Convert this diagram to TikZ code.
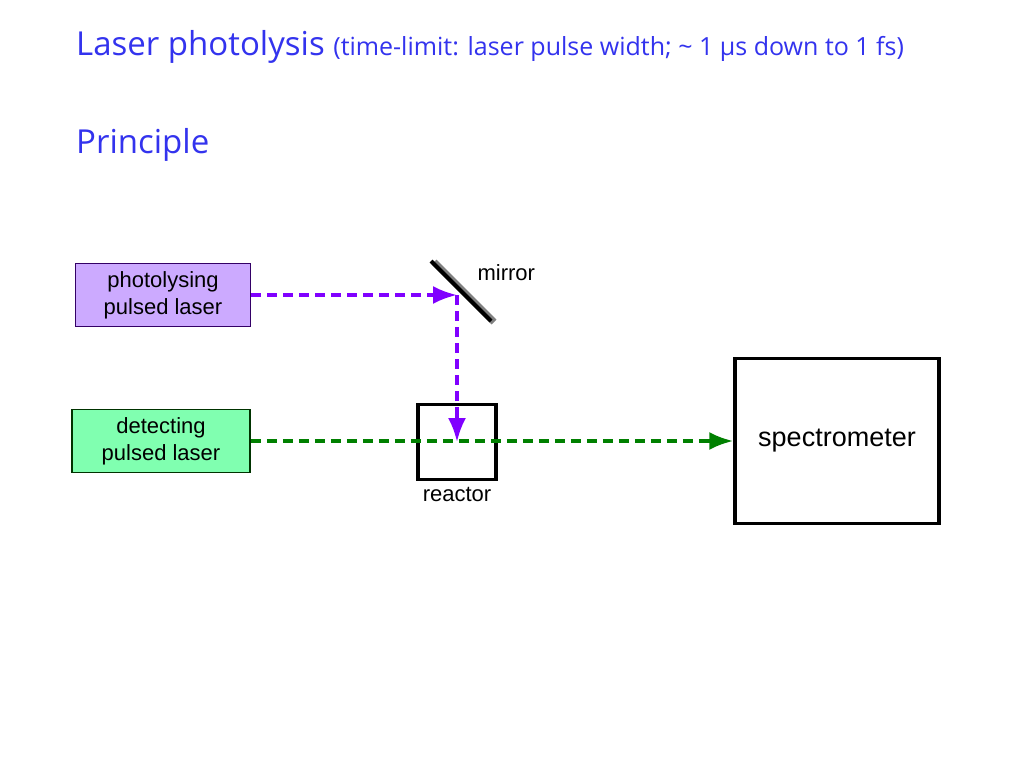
\documentclass[tikz,border=0pt]{standalone}
\usepackage{fontspec}
\setmainfont{Liberation Sans}
\newfontfamily\titlefont{Open Sans}
\usetikzlibrary{positioning}
\usetikzlibrary{arrows.meta}
\definecolor{titleblue}{RGB}{51,51,238}
\definecolor{beampurple}{RGB}{128,0,255}
\definecolor{beamgreen}{RGB}{0,128,0}
\definecolor{lavender}{RGB}{204,170,255}
\definecolor{mint}{RGB}{128,255,176}
\tikzstyle{laser}=[draw, line width=1.8pt, minimum width=175pt, minimum height=63pt, align=center, font=\fontsize{22}{27}\selectfont]
\tikzstyle{beam}=[line width=3.5pt, dash pattern=on 10pt off 6pt]
\tikzstyle{arrow}=[-{Latex[length=24pt,width=18pt]}]
\tikzstyle{label}=[font=\fontsize{22}{26}\selectfont]
\begin{document}
\begin{tikzpicture}[x=1pt, y=-1pt]
    \useasboundingbox[fill=white] (0,0) rectangle (1024,768);
    \node [anchor=base west, text=titleblue, inner sep=0] (title) at (76,56)
      {\titlefont\fontsize{33}{38}\selectfont Laser photolysis \fontsize{25}{30}\selectfont(time-limit: laser pulse width; \textasciitilde{} 1 µs down to 1 fs)};
    \node [anchor=base west, text=titleblue, inner sep=0] (principle) at (76,153)
      {\titlefont\fontsize{33}{38}\selectfont Principle};

    \node [laser, fill=lavender, draw=black!60!beampurple] (photo) at (163,295) {photolysing\\pulsed laser};
    \node [laser, fill=mint, draw=black!60!beamgreen, minimum width=178pt] (detect) at (161,441) {detecting\\pulsed laser};

    \draw [line width=7pt, gray] (434,262) -- (494,322);
    \draw [line width=4pt] (431,261) -- (491,321);
    \coordinate (mirror) at (457,295);
    \node [label, anchor=west] (mirror-label) at (474,273) {mirror};

    \node [draw, line width=3.5pt, minimum width=78pt, minimum height=75pt] (reactor) at (457,442) {};
    \node [label, below=2pt of reactor] (reactor-label) {reactor};

    \node [draw, line width=3.5pt, minimum width=204pt, minimum height=165pt, font=\fontsize{27}{32}\selectfont] (spectro) at (837,441) {spectrometer};

    \draw [beam, beampurple] (photo.east) -- ([xshift=-24pt]mirror);
    \draw [arrow, beampurple, line width=3.5pt] ([xshift=-24pt]mirror) -- (mirror);
    \draw [beam, beampurple] (mirror) -- (457,416);
    \draw [arrow, beampurple, line width=3.5pt] (457,416) -- (reactor.center);

    \draw [beam, beamgreen] (detect.east) -- ([xshift=-26pt]spectro.west);
    \draw [arrow, beamgreen, line width=3.5pt] ([xshift=-26pt]spectro.west) -- (spectro.west);
\end{tikzpicture}
\end{document}
